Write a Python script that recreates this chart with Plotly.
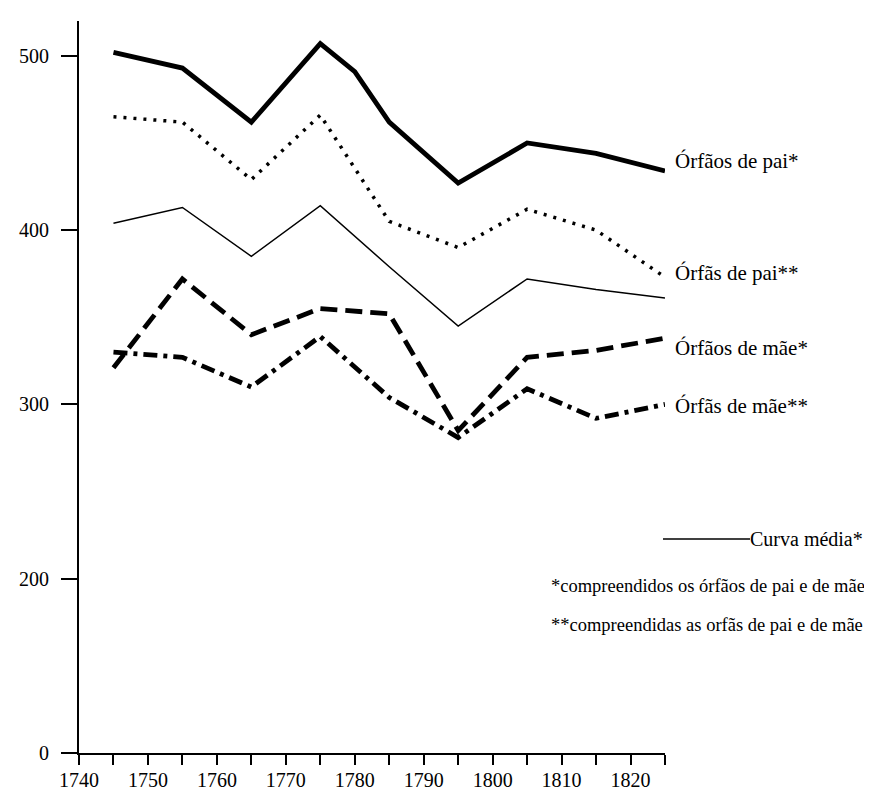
import plotly.graph_objects as go

# ---- data ----
years = [1745, 1755, 1765, 1775, 1785, 1795, 1805, 1815, 1825]
years_pai = [1745, 1755, 1765, 1775, 1780, 1785, 1795, 1805, 1815, 1825]

orfaos_pai = [502, 493, 462, 507, 491, 462, 427, 450, 444, 434]      # Órfãos de pai*
orfas_pai = [465, 462, 429, 466, 405, 390, 412, 400, 373]            # Órfãs de pai**
curva_media = [404, 413, 385, 414, 379, 345, 372, 366, 361]          # Curva média*
orfaos_mae = [321, 372, 340, 355, 352, 285, 327, 331, 338]           # Órfãos de mãe*
orfas_mae = [330, 327, 310, 339, 304, 281, 309, 292, 300]            # Órfãs de mãe**

x_tick_vals = [1740, 1750, 1760, 1770, 1780, 1790, 1800, 1810, 1820]
y_tick_vals = [100, 200, 300, 400, 500]          # broken axis: bottom tick labelled 0
y_tick_text = ["0", "200", "300", "400", "500"]

curve_labels = ["Órfãos de pai*", "Órfãs de pai**", "Órfãos de mãe*", "Órfãs de mãe**"]
legend_label = "Curva média*"
notes = ["*compreendidos os órfãos de pai e de mãe",
         "**compreendidas as orfãs de pai e de mãe"]

FONT = "Liberation Serif"

fig = go.Figure()
fig.add_trace(go.Scatter(x=years_pai, y=orfaos_pai, mode="lines",
                         line=dict(color="black", width=4.8), name=curve_labels[0]))
fig.add_trace(go.Scatter(x=years, y=orfas_pai, mode="lines",
                         line=dict(color="black", width=3.5, dash="3px,7px"), name=curve_labels[1]))
fig.add_trace(go.Scatter(x=years, y=curva_media, mode="lines",
                         line=dict(color="black", width=1.5), name=legend_label))
fig.add_trace(go.Scatter(x=years, y=orfaos_mae, mode="lines",
                         line=dict(color="black", width=4.8, dash="17px,8px"), name=curve_labels[2]))
fig.add_trace(go.Scatter(x=years, y=orfas_mae, mode="lines",
                         line=dict(color="black", width=4.8, dash="14px,6px,4px,6px"), name=curve_labels[3]))

W, H = 872, 790
L, R, T, B = 71, 215, 13, 45
pw, ph = W - L - R, H - T - B


def px(xp):
    return (xp - L) / pw


def py(yp):
    return (H - B - yp) / ph


ann = []
label_y = [153, 265, 340, 398]
for txt, yy in zip(curve_labels, label_y):
    ann.append(dict(text=txt, x=px(665), y=py(yy), xref="paper", yref="paper",
                    xanchor="left", yanchor="middle", showarrow=False,
                    font=dict(family=FONT, size=21, color="black")))
ann.append(dict(text=legend_label, x=px(740), y=py(531), xref="paper", yref="paper",
                xanchor="left", yanchor="middle", showarrow=False,
                font=dict(family=FONT, size=20, color="black")))
for txt, yy in zip(notes, [578, 617]):
    ann.append(dict(text=txt, x=px(541), y=py(yy), xref="paper", yref="paper",
                    xanchor="left", yanchor="middle", showarrow=False,
                    font=dict(family=FONT, size=18.5, color="black")))

fig.update_layout(
    width=W, height=H,
    margin=dict(l=L, r=R, t=T, b=B, pad=0),
    paper_bgcolor="white", plot_bgcolor="white",
    showlegend=False,
    font=dict(family=FONT, size=20, color="black"),
    annotations=ann,
    shapes=[dict(type="line", xref="paper", yref="paper",
                 x0=px(655), x1=px(742), y0=py(531), y1=py(531),
                 line=dict(color="black", width=1.5))],
    xaxis=dict(range=[1740, 1825], tickvals=x_tick_vals, ticks="outside",
               ticklen=10, tickwidth=2, tickcolor="black",
               showline=True, linewidth=2, linecolor="black",
               showgrid=False, zeroline=False, automargin=False,
               ticklabelstandoff=-2,
               tickfont=dict(family=FONT, size=20, color="black"),
               minor=dict(tick0=1740, dtick=5, ticks="outside", ticklen=10,
                          tickwidth=2, tickcolor="black", showgrid=False)),
    yaxis=dict(range=[100, 520], tickvals=y_tick_vals, ticktext=y_tick_text,
               ticks="outside", ticklen=16, tickwidth=2, tickcolor="black",
               showline=True, linewidth=2, linecolor="black",
               showgrid=False, zeroline=False, automargin=False,
               ticklabelstandoff=8,
               tickfont=dict(family=FONT, size=20, color="black")),
)

fig.write_html("out.html")
